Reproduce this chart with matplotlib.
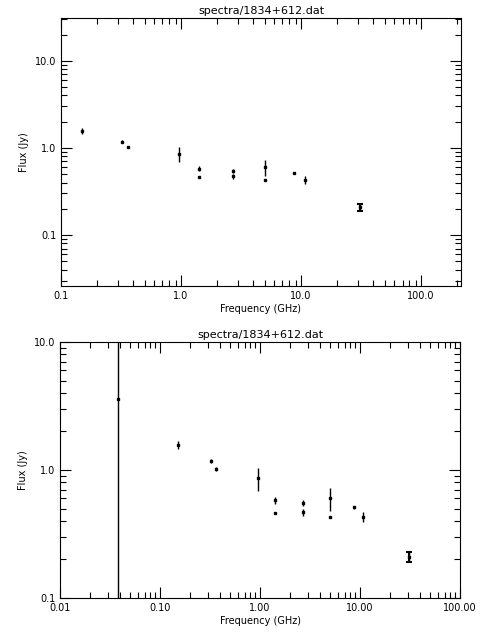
import numpy as np
import matplotlib
matplotlib.use("Agg")
import matplotlib.pyplot as plt
from matplotlib.ticker import FixedLocator, NullFormatter

freq = [0.038, 0.15, 0.325, 0.36, 0.96, 1.4, 1.4, 2.7, 2.7, 5.0, 5.0, 8.7, 10.7, 31.0]
flux = [3.6, 1.58, 1.18, 1.02, 0.86, 0.58, 0.46, 0.55, 0.47, 0.60, 0.43, 0.51, 0.43, 0.21]
err = [50.0, 0.12, 0.04, 0.03, 0.17, 0.04, 0.01, 0.03, 0.03, 0.12, 0.01, 0.01, 0.04, 0.02]

title = "spectra/1834+612.dat"

plt.rcParams["font.size"] = 7
fig = plt.figure(figsize=(4.8, 6.4), dpi=100)
ax1 = fig.add_axes([61/480, 1-286/640, 400/480, 268/640])
ax2 = fig.add_axes([60/480, 1-598/640, 400/480, 256/640])

def draw(ax, xlim, ylim, xt, xl, yt, yl):
    f = np.array(freq); s = np.array(flux); e = np.array(err)
    lo = np.minimum(e, s - 1e-6)
    ax.errorbar(f, s, yerr=[lo, e], fmt="none", ecolor="black", elinewidth=1)
    ax.plot(f, s, "s", ms=1.5, color="black")
    ax.errorbar([31.0], [0.21], yerr=[0.02], fmt="none", ecolor="black", elinewidth=1.5, capsize=2, capthick=1.5)
    ax.set_xscale("log"); ax.set_yscale("log")
    ax.set_xlim(*xlim); ax.set_ylim(*ylim)
    ax.set_xticks(xt); ax.set_xticklabels(xl)
    ax.set_yticks(yt); ax.set_yticklabels(yl)
    ax.xaxis.set_minor_formatter(NullFormatter())
    ax.yaxis.set_minor_formatter(NullFormatter())
    ax.tick_params(which="both", direction="in", top=True, right=True, width=0.8)
    ax.tick_params(which="major", length=8)
    ax.tick_params(which="minor", length=4)
    ax.set_xlabel("Frequency (GHz)", labelpad=2)
    ax.set_ylabel("Flux (Jy)")
    ax.set_title(title, fontsize=8, pad=3)

draw(ax1, (0.1, 215), (0.026, 31), [0.1, 1, 10, 100], ["0.1", "1.0", "10.0", "100.0"],
     [0.1, 1, 10], ["0.1", "1.0", "10.0"])
draw(ax2, (0.01, 100), (0.1, 10), [0.01, 0.1, 1, 10, 100], ["0.01", "0.10", "1.00", "10.00", "100.00"],
     [0.1, 1, 10], ["0.1", "1.0", "10.0"])

fig.savefig("out.png", dpi=100)
